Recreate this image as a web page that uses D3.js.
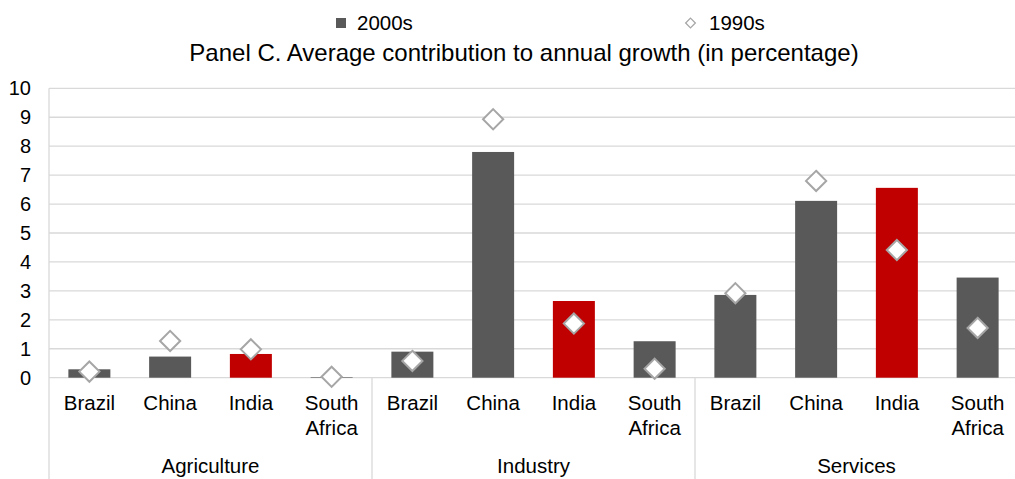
<!DOCTYPE html>
<html><head><meta charset="utf-8">
<script src="https://cdn.jsdelivr.net/npm/d3@7"></script>
<style>body{margin:0;background:#fff}svg{display:block;font-family:"Liberation Sans",Arial,sans-serif}</style>
</head><body><svg id="c" width="1015" height="479"></svg>
<script>
const groups = ["Agriculture","Industry","Services"];
const countries = ["Brazil","China","India","South Africa"];
const values2000s = [0.29,0.73,0.82,0.02, 0.90,7.80,2.65,1.26, 2.86,6.11,6.56,3.46];
const values1990s = [0.21,1.27,0.98,0.03, 0.58,8.93,1.87,0.31, 2.92,6.80,4.41,1.72];
const yTicks = [0,1,2,3,4,5,6,7,8,9,10];
const seriesNames = ["2000s","1990s"];
const title = "Panel C. Average contribution to annual growth (in percentage)";

(function(){
const svg = d3.select("#c");
const pl = 49, pr = 1018, pt = 88.3, pb = 377.7;
const keys = [];
groups.forEach(g => countries.forEach(c => keys.push(g + "|" + c)));
const x = d3.scaleBand().domain(keys).range([pl, pr]).paddingInner(0.48).paddingOuter(0.24);
const xg = d3.scaleBand().domain(groups).range([pl, pr]);
const y = d3.scaleLinear().domain([0, 10]).range([pb, pt]);

svg.append("g").selectAll("line").data(yTicks).join("line")
  .attr("x1", pl).attr("x2", pr).attr("y1", d => y(d)).attr("y2", d => y(d))
  .attr("stroke", "#d9d9d9").attr("stroke-width", 1.3);

const ya = svg.append("g").attr("transform", `translate(${pl},0)`)
  .call(d3.axisLeft(y).tickValues(yTicks).tickSize(0).tickPadding(18));
ya.select(".domain").remove();
ya.selectAll("text").attr("font-size", 20).attr("fill", "#000").attr("font-family", "Liberation Sans, Arial, sans-serif");

svg.append("line").attr("x1", pl).attr("x2", pl).attr("y1", pt).attr("y2", 479)
  .attr("stroke", "#d9d9d9").attr("stroke-width", 1.3);
svg.append("g").selectAll("line").data(groups.slice(1)).join("line")
  .attr("x1", d => xg(d)).attr("x2", d => xg(d)).attr("y1", pb).attr("y2", 479)
  .attr("stroke", "#d9d9d9").attr("stroke-width", 1.3);

svg.append("g").selectAll("rect").data(keys).join("rect")
  .attr("x", d => x(d)).attr("width", x.bandwidth())
  .attr("y", (d, i) => y(values2000s[i])).attr("height", (d, i) => y(0) - y(values2000s[i]))
  .attr("fill", d => d.endsWith("India") ? "#c00000" : "#595959");

const sym = d3.symbol().type(d3.symbolDiamond2).size(260);
svg.append("g").selectAll("path").data(keys).join("path")
  .attr("d", sym)
  .attr("transform", (d, i) => `translate(${x(d) + x.bandwidth() / 2},${y(values1990s[i])})`)
  .attr("fill", "#fff").attr("stroke", "#a6a6a6").attr("stroke-width", 2);

const cl = svg.append("g").attr("font-size", 20.5).attr("fill", "#000").attr("text-anchor", "middle");
keys.forEach(k => {
  const c = k.split("|")[1];
  const cx = x(k) + x.bandwidth() / 2;
  c.split(" ").forEach((w, j) => {
    cl.append("text").attr("x", cx).attr("y", 410 + j * 25).text(w);
  });
});
svg.append("g").selectAll("text").data(groups).join("text")
  .attr("x", d => xg(d) + xg.bandwidth() / 2).attr("y", 473)
  .attr("text-anchor", "middle").attr("font-size", 20.5).text(d => d);

svg.append("text").attr("x", 524).attr("y", 61).attr("text-anchor", "middle")
  .attr("font-size", 24).text(title);

const lg = svg.append("g").attr("font-size", 20.5);
lg.append("rect").attr("x", 336).attr("y", 18).attr("width", 10).attr("height", 10).attr("fill", "#595959");
lg.append("text").attr("x", 357).attr("y", 30).text(seriesNames[0]);
lg.append("path").attr("d", d3.symbol().type(d3.symbolDiamond2).size(60)())
  .attr("transform", "translate(690.5,23)").attr("fill", "#fff").attr("stroke", "#a6a6a6").attr("stroke-width", 1.3);
lg.append("text").attr("x", 709).attr("y", 30).text(seriesNames[1]);
})();
</script></body></html>
